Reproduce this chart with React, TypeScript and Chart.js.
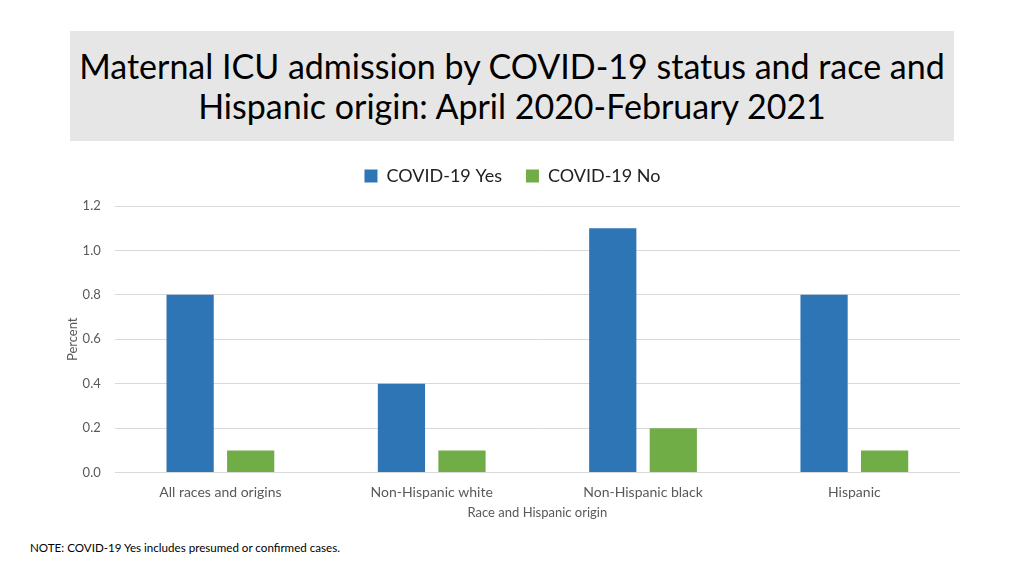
import React, { useEffect, useRef } from "react";
import { Chart, registerables } from "chart.js";

Chart.register(...registerables);

const categories = ["All races and origins", "Non-Hispanic white", "Non-Hispanic black", "Hispanic"];
const covidYes = [0.8, 0.4, 1.1, 0.8];
const covidNo = [0.1, 0.1, 0.2, 0.1];
const seriesNames = ["COVID-19 Yes", "COVID-19 No"];

const FONT = "Lato, 'Open Sans', sans-serif";

const legendMargin = {
  id: "legendMargin",
  beforeInit(chart: any) {
    const orig = chart.legend.fit;
    chart.legend.fit = function () {
      orig.bind(chart.legend)();
      this.height += 11;
    };
  },
};

export default function App() {
  const ref = useRef<HTMLCanvasElement | null>(null);
  useEffect(() => {
    if (!ref.current) return;
    const chart = new Chart(ref.current, {
      type: "bar",
      data: {
        labels: categories,
        datasets: [
          { label: seriesNames[0], data: covidYes, backgroundColor: "#2e75b6", categoryPercentage: 0.573, barPercentage: 0.78 },
          { label: seriesNames[1], data: covidNo, backgroundColor: "#70ad47", categoryPercentage: 0.573, barPercentage: 0.78 },
        ],
      },
      plugins: [legendMargin],
      options: {
        animation: false,
        responsive: false,
        maintainAspectRatio: false,
        layout: { padding: { left: 0, right: 15, top: 0, bottom: 0 } },
        plugins: {
          tooltip: { enabled: false },
          legend: {
            position: "top",
            labels: { font: { family: FONT, size: 18 }, color: "#222", boxWidth: 13, boxHeight: 13, padding: 24 },
          },
        },
        scales: {
          x: {
            grid: { display: false },
            border: { display: false },
            ticks: { font: { family: FONT, size: 14 }, color: "#595959", padding: 3 },
            title: { display: true, text: "Race and Hispanic origin", font: { family: FONT, size: 13 }, color: "#595959", padding: { top: 2, bottom: 0 } },
          },
          y: {
            min: 0,
            max: 1.2,
            ticks: { stepSize: 0.2, font: { family: FONT, size: 13 }, color: "#595959", padding: 14, callback: (v: any) => Number(v).toFixed(1) },
            grid: { color: "#d9d9d9", drawTicks: false },
            border: { display: false },
            title: { display: true, text: "Percent", font: { family: FONT, size: 13 }, color: "#595959", padding: { top: 0, bottom: -12 } },
          },
        },
      },
    });
    return () => chart.destroy();
  }, []);

  return (
    <div style={{ position: "absolute", left: 0, top: 0, width: 1024, height: 576, background: "#fff", fontFamily: FONT }}>
      <div
        style={{
          position: "absolute", left: 70, top: 31, width: 884, height: 110, background: "#e7e6e6",
          display: "flex", alignItems: "center", justifyContent: "center", textAlign: "center",
          fontSize: 34, lineHeight: "40px", color: "#000",
        }}
      >
        <div>Maternal ICU admission by COVID-19 status and race and<br />Hispanic origin: April 2020-February 2021</div>
      </div>
      <canvas ref={ref} width={910} height={378} style={{ position: "absolute", left: 65, top: 143 }} />
      <div style={{ position: "absolute", left: 30, top: 541, fontSize: 11.6, color: "#000" }}>
        NOTE: COVID-19 Yes includes presumed or confirmed cases.
      </div>
    </div>
  );
}
